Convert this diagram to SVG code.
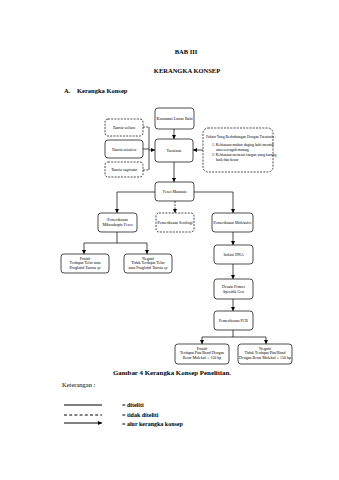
<svg xmlns="http://www.w3.org/2000/svg" width="339" height="480" viewBox="0 0 339 480">
<style>
text{font-family:"Liberation Serif","Times New Roman",serif;fill:#000}
.h{font-weight:bold;font-size:6.5px}
.n{font-size:4px;text-anchor:middle}
.ni{font-size:4px;text-anchor:middle;font-style:italic}
.box{fill:#fff;stroke:#000;stroke-width:0.7}
.dbox{fill:#fff;stroke:#000;stroke-width:0.7;stroke-dasharray:2,1.2}
.c{fill:none;stroke:#000;stroke-width:0.7}
.cd{fill:none;stroke:#000;stroke-width:0.7;stroke-dasharray:2,1.2}
.lg{font-weight:bold;font-size:6px}
</style>
<defs>
<marker id="ah" viewBox="0 0 6 6" refX="6" refY="3" markerWidth="4" markerHeight="4" orient="auto" markerUnits="userSpaceOnUse">
<path d="M0,0 L6,3 L0,6 Z" fill="#000"/>
</marker>
</defs>
<rect width="339" height="480" fill="#fff"/>

<text class="h" x="186" y="54" text-anchor="middle">BAB III</text>
<text class="h" x="187" y="73" text-anchor="middle">KERANGKA KONSEP</text>
<text class="h" x="64" y="93">A.</text>
<text class="h" x="77" y="93">Kerangka Konsep</text>

<g id="connectors">
<line class="c" x1="174" y1="129" x2="174" y2="139" marker-end="url(#ah)"/>
<line class="cd" x1="143" y1="127" x2="149" y2="127"/>
<line class="c" x1="143" y1="149" x2="149" y2="149"/>
<line class="cd" x1="143" y1="170" x2="149" y2="170"/>
<line class="c" x1="149" y1="127" x2="149" y2="170"/>
<line class="c" x1="149" y1="150" x2="155" y2="150" marker-end="url(#ah)"/>
<line class="c" x1="203" y1="150" x2="193" y2="150" marker-end="url(#ah)"/>
<line class="c" x1="174" y1="162" x2="174" y2="182" marker-end="url(#ah)"/>
<polyline class="c" points="155,192 117,192 117,213" marker-end="url(#ah)"/>
<polyline class="c" points="194,192 233,192 233,213" marker-end="url(#ah)"/>
<line class="cd" x1="175" y1="201" x2="175" y2="213" marker-end="url(#ah)"/>
<line class="c" x1="117" y1="232" x2="117" y2="243"/>
<line class="c" x1="84" y1="243" x2="147" y2="243"/>
<line class="c" x1="84" y1="243" x2="84" y2="254" marker-end="url(#ah)"/>
<line class="c" x1="147" y1="243" x2="147" y2="254" marker-end="url(#ah)"/>
<line class="c" x1="233" y1="232" x2="233" y2="245" marker-end="url(#ah)"/>
<line class="c" x1="233" y1="264" x2="233" y2="279" marker-end="url(#ah)"/>
<line class="c" x1="233" y1="299" x2="233" y2="311" marker-end="url(#ah)"/>
<line class="c" x1="233" y1="330" x2="233" y2="337"/>
<line class="c" x1="202" y1="337" x2="266" y2="337"/>
<line class="c" x1="202" y1="337" x2="202" y2="344" marker-end="url(#ah)"/>
<line class="c" x1="266" y1="337" x2="266" y2="344" marker-end="url(#ah)"/>
</g>

<g id="n-konsumsi">
<rect class="box" x="155" y="108" width="39" height="21" rx="3"/>
<text class="n" x="174.5" y="120">Konsumsi Lawar Babi</text>
</g>
<g id="n-solium">
<rect class="dbox" x="105" y="119" width="38" height="17" rx="3"/>
<text class="ni" x="124" y="129">Taenia solium</text>
</g>
<g id="n-asiatica">
<rect class="box" x="105" y="140" width="38" height="18" rx="3"/>
<text class="ni" x="124" y="151">Taenia asiatica</text>
</g>
<g id="n-saginata">
<rect class="dbox" x="105" y="162" width="38" height="15" rx="3"/>
<text class="ni" x="124" y="171">Taenia saginata</text>
</g>
<g id="n-taeniasis">
<rect class="box" x="155" y="139" width="38" height="23" rx="3"/>
<text class="n" x="174" y="151.5">Taeniasis</text>
</g>
<g id="n-faktor">
<rect class="dbox" x="203" y="128" width="70" height="44" rx="5"/>
<text style="font-size:3.8px" x="206" y="138">Faktor Yang Berhubungan Dengan Taeniasis :</text>
<text style="font-size:3.8px" x="212" y="146">1. Kebiasaan makan daging babi mentah</text>
<text style="font-size:3.8px" x="216" y="150.5">atau setengah matang</text>
<text style="font-size:3.8px" x="212" y="156">2. Kebiasaan mencuci tangan yang kurang</text>
<text style="font-size:3.8px" x="216" y="160.5">baik dan benar</text>
</g>
<g id="n-feses">
<rect class="box" x="155" y="182" width="39" height="19" rx="3"/>
<text class="n" x="174.5" y="193">Feses Manusia</text>
</g>
<g id="n-mikroskopis">
<rect class="box" x="98" y="213" width="39" height="19" rx="3"/>
<text class="n" x="117.5" y="221">Pemeriksaan</text>
<text class="n" x="117.5" y="226">Mikroskopis Feses</text>
</g>
<g id="n-serologi">
<rect class="dbox" x="156" y="213" width="38" height="19" rx="3"/>
<text class="n" x="175" y="224">Pemeriksaan Serologi</text>
</g>
<g id="n-molekuler">
<rect class="box" x="212" y="213" width="41" height="19" rx="3"/>
<text class="n" x="232.5" y="224">Pemeriksaan Molekuler</text>
</g>
<g id="n-pos1">
<rect class="box" x="61" y="254" width="48" height="19" rx="3"/>
<text class="n" x="85" y="259.5">Positif</text>
<text class="n" x="85" y="264">Terdapat Telur atau</text>
<text class="n" x="85" y="268.5">Proglotid <tspan font-style="italic">Taenia sp</tspan></text>
</g>
<g id="n-neg1">
<rect class="box" x="124" y="254" width="48" height="19" rx="3"/>
<text class="n" x="148" y="259.5">Negatif</text>
<text class="n" x="148" y="264">Tidak Terdapat Telur</text>
<text class="n" x="148" y="268.5">atau Proglotid <tspan font-style="italic">Taenia sp</tspan></text>
</g>
<g id="n-isolasi">
<rect class="box" x="214" y="245" width="39" height="19" rx="3"/>
<text class="n" x="233.5" y="256">Isolasi DNA</text>
</g>
<g id="n-primer">
<rect class="box" x="214" y="279" width="39" height="20" rx="3"/>
<text class="n" x="233.5" y="287.5">Desain Primer</text>
<text class="n" x="233.5" y="292.5">Spesifik Gen</text>
</g>
<g id="n-pcr">
<rect class="box" x="214" y="311" width="39" height="19" rx="3"/>
<text class="n" x="233.5" y="322">Pemeriksaan PCR</text>
</g>
<g id="n-pos2">
<rect class="box" x="175" y="344" width="54" height="20" rx="3"/>
<text class="n" x="202" y="349.5">Positif</text>
<text class="n" x="202" y="354">Terdapat Pita/Band Dengan</text>
<text class="n" x="202" y="358.5">Berat Molekul ± 150 bp</text>
</g>
<g id="n-neg2">
<rect class="box" x="238" y="344" width="54" height="20" rx="3"/>
<text class="n" x="265" y="349.5">Negatif</text>
<text class="n" x="265" y="354">Tidak Terdapat Pita/Band</text>
<text class="n" x="265" y="358.5">Dengan Berat Molekul ± 150 bp</text>
</g>

<text x="172" y="375" text-anchor="middle" style="font-weight:bold;font-size:6.9px">Gambar 4 Kerangka Konsep Penelitian.</text>
<text x="62" y="387" style="font-size:6.5px">Keterangan :</text>

<g id="legend">
<line x1="64" y1="405" x2="102" y2="405" stroke="#000" stroke-width="1.2"/>
<line x1="64" y1="415" x2="102" y2="415" stroke="#000" stroke-width="1.2" stroke-dasharray="3,2.2"/>
<line x1="64" y1="423" x2="102" y2="423" stroke="#000" stroke-width="1.2" marker-end="url(#ah)"/>
<text class="lg" x="122" y="407">= diteliti</text>
<text class="lg" x="122" y="417">= tidak diteliti</text>
<text class="lg" x="122" y="425.5">= alur kerangka konsep</text>
</g>
</svg>
